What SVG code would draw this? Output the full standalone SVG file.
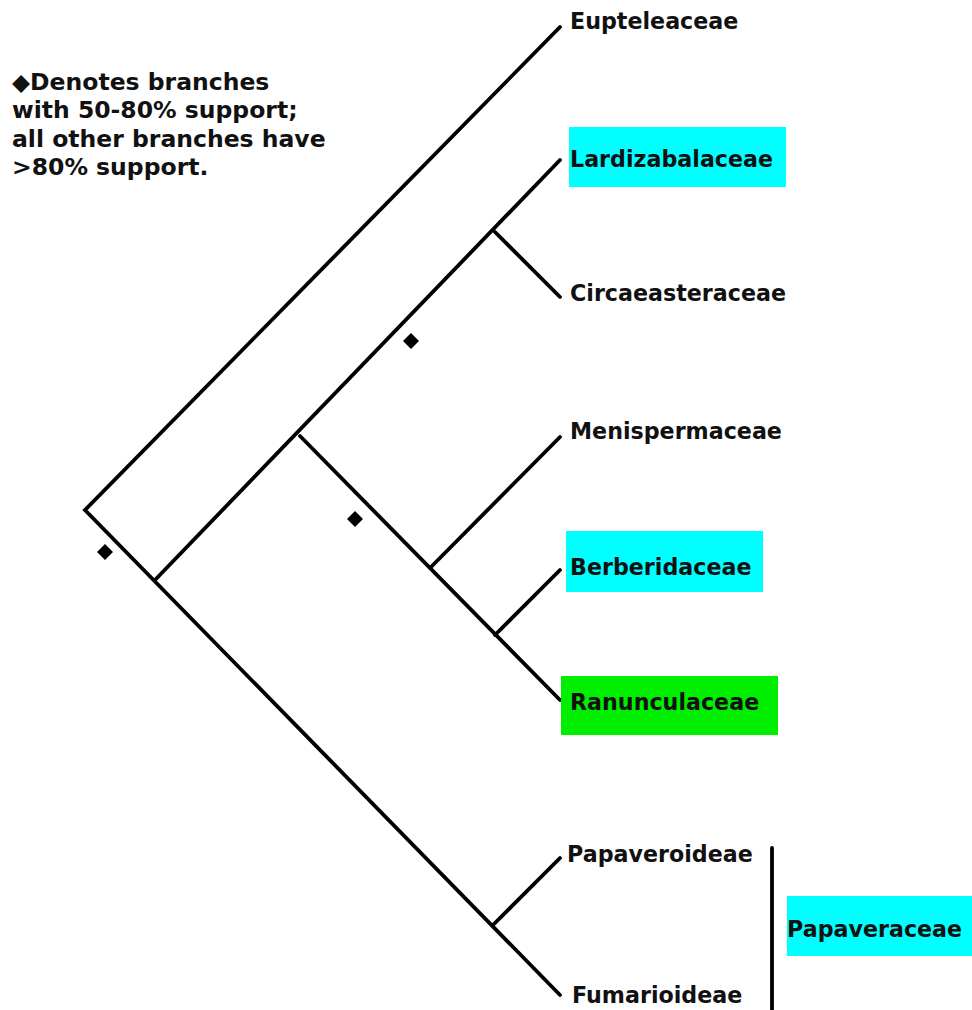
<svg xmlns="http://www.w3.org/2000/svg" width="972" height="1010" viewBox="0 0 972 1010">
<style>
.t{font-family:"DejaVu Sans",Verdana,sans-serif;font-weight:bold;font-size:22.2px;fill:#111}
.lg{font-family:"DejaVu Sans",Verdana,sans-serif;font-weight:bold;font-size:23.5px;fill:#111}
.br{stroke:#000;stroke-width:3.8;fill:none;stroke-linecap:round;stroke-linejoin:miter}
.cy{fill:#00ffff}
.gr{fill:#00ee00}
</style>
<defs>
<path id="dia" d="M0,-8 L8,0 L0,8 L-8,0 Z" fill="#000"/>
</defs>
<rect width="972" height="1010" fill="#fff"/>
<g id="legend">
<text class="lg" x="12" y="90">◆Denotes branches</text>
<text class="lg" x="12" y="118">with 50-80% support;</text>
<text class="lg" x="12" y="147">all other branches have</text>
<text class="lg" x="12" y="175">&gt;80% support.</text>
</g>
<g id="connectors">
<path class="br" d="M560,27 L85,510 L560,995"/>
<path class="br" d="M155,580 L560,160"/>
<path class="br" d="M300,436 L560,700"/>
<path class="br" d="M495,232 L560,297"/>
<path class="br" d="M430,568 L560,437"/>
<path class="br" d="M495,635 L560,570"/>
<path class="br" d="M493,925 L560,858"/>
<path class="br" d="M772,848 L772,1010"/>
</g>
<g id="support-markers">
<use href="#dia" x="105" y="552"/>
<use href="#dia" x="411" y="341"/>
<use href="#dia" x="355" y="519"/>
</g>
<g id="n-eupteleaceae"><text class="t" x="570" y="29">Eupteleaceae</text></g>
<g id="n-lardizabalaceae"><rect class="cy" x="569" y="127" width="217" height="60"/><text class="t" x="570" y="167">Lardizabalaceae</text></g>
<g id="n-circaeasteraceae"><text class="t" x="570" y="301">Circaeasteraceae</text></g>
<g id="n-menispermaceae"><text class="t" x="570" y="439">Menispermaceae</text></g>
<g id="n-berberidaceae"><rect class="cy" x="566" y="531" width="197" height="61"/><text class="t" x="570" y="575">Berberidaceae</text></g>
<g id="n-ranunculaceae"><rect class="gr" x="561" y="676" width="217" height="59"/><text class="t" x="570" y="710">Ranunculaceae</text></g>
<g id="n-papaveroideae"><text class="t" x="567" y="862">Papaveroideae</text></g>
<g id="n-fumarioideae"><text class="t" x="572" y="1003">Fumarioideae</text></g>
<g id="n-papaveraceae"><rect class="cy" x="787" y="896" width="185" height="60"/><text class="t" x="787" y="937">Papaveraceae</text></g>
</svg>
